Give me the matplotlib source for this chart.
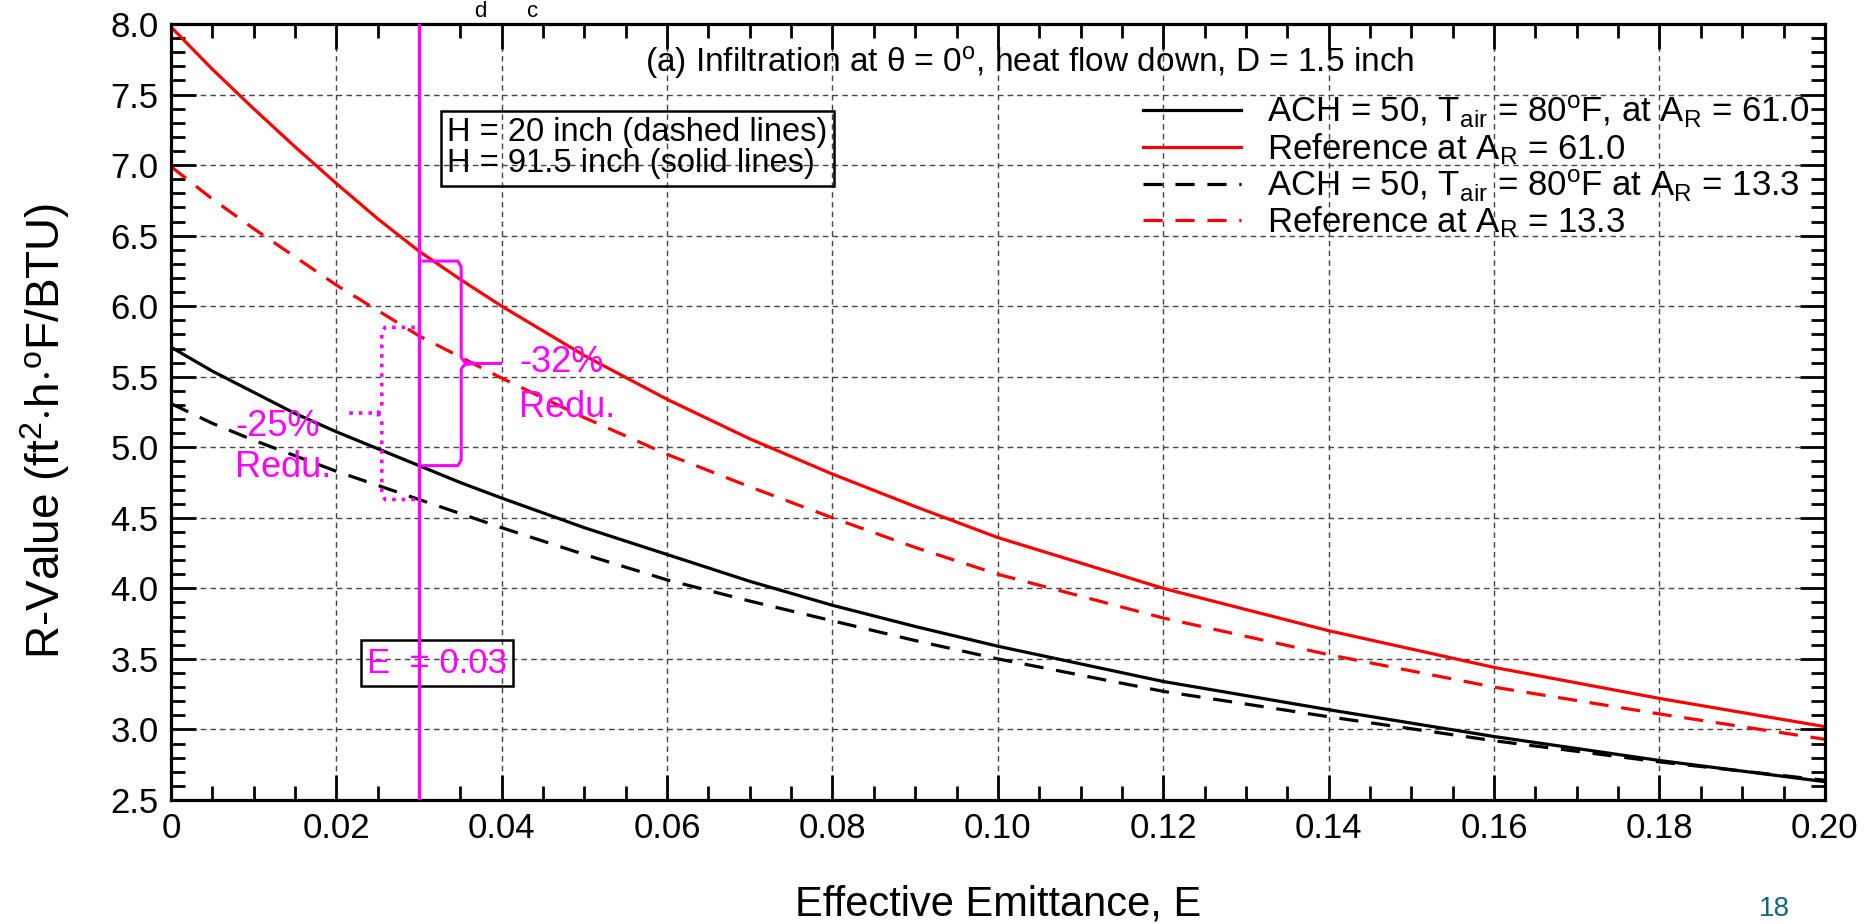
import matplotlib
matplotlib.use('Agg')
import matplotlib.pyplot as plt
import numpy as np
from matplotlib.ticker import MultipleLocator, FixedLocator, FixedFormatter

# values
E = [0, 0.005, 0.01, 0.015, 0.02, 0.025, 0.03, 0.035, 0.04, 0.05, 0.06, 0.07,
     0.08, 0.09, 0.10, 0.12, 0.14, 0.16, 0.18, 0.20]
ref_61 = [7.98, 7.68, 7.40, 7.13, 6.87, 6.62, 6.39, 6.19, 6.00, 5.65, 5.34, 5.06,
          4.81, 4.58, 4.36, 4.00, 3.70, 3.44, 3.22, 3.02]
ref_13 = [6.99, 6.76, 6.55, 6.35, 6.15, 5.97, 5.79, 5.64, 5.49, 5.21, 4.95, 4.72,
          4.50, 4.29, 4.10, 3.79, 3.53, 3.30, 3.11, 2.93]
ach_61 = [5.71, 5.54, 5.39, 5.24, 5.11, 4.99, 4.87, 4.75, 4.64, 4.43, 4.24, 4.05,
          3.88, 3.73, 3.59, 3.34, 3.14, 2.95, 2.78, 2.63]
ach_13 = [5.31, 5.17, 5.05, 4.94, 4.83, 4.73, 4.63, 4.53, 4.43, 4.24, 4.06, 3.91,
          3.77, 3.63, 3.50, 3.27, 3.09, 2.92, 2.77, 2.64]

x_ticks = [0, 0.02, 0.04, 0.06, 0.08, 0.10, 0.12, 0.14, 0.16, 0.18, 0.20]
x_ticklabels = ['0', '0.02', '0.04', '0.06', '0.08', '0.10', '0.12', '0.14', '0.16', '0.18', '0.20']
E_mark = 0.03
red_pct = '-32%'
black_pct = '-25%'

plt.rcParams['font.family'] = ['Liberation Sans']
plt.rcParams['mathtext.fontset'] = 'custom'
plt.rcParams['mathtext.rm'] = 'Liberation Sans'
plt.rcParams['mathtext.it'] = 'Liberation Sans:italic'
MAG = '#ff00ff'

fig = plt.figure(figsize=(18.68, 9.24), dpi=100)
ax = fig.add_axes([0.0915, 0.1342, 0.8854, 0.8398])

dash = (0, (6, 4))
ax.plot(E, ach_61, color='black', lw=2.3,
        label=r'ACH = 50, T$_{\rm air}$ = 80$^{\rm o}$F, at A$_{\rm R}$ = 61.0')
ax.plot(E, ref_61, color='red', lw=2.3, label=r'Reference at A$_{\rm R}$ = 61.0')
ax.plot(E, ach_13, color='black', lw=2.3, ls=dash,
        label=r'ACH = 50, T$_{\rm air}$ = 80$^{\rm o}$F at A$_{\rm R}$ = 13.3')
ax.plot(E, ref_13, color='red', lw=2.3, ls=dash, label=r'Reference at A$_{\rm R}$ = 13.3')

# E = 0.03 marker line
ax.axvline(E_mark, color=MAG, lw=2.4, zorder=5)

i = E.index(E_mark)
# solid brace between the H = 91.5 inch curves
yt, yb = ref_61[i] - 0.07, ach_61[i]
ym = (yt + yb) / 2
xb, xt, d = 0.0351, 0.0367, 0.04
ax.plot([E_mark + 0.0005, xb - 0.0004, xb, xb, xb + 0.0004, xt],
        [yt, yt, yt - d, ym + d, ym + 0.01, ym], color=MAG, lw=2.2)
ax.plot([E_mark + 0.0005, xb - 0.0004, xb, xb, xb + 0.0004, xt],
        [yb, yb, yb + d, ym - d, ym - 0.01, ym], color=MAG, lw=2.2)
ax.plot([xt, 0.0398], [ym, ym], color=MAG, lw=2.2)

# dotted brace between the H = 20 inch curves
yt2, yb2 = ref_13[i] + 0.06, ach_13[i]
ym2 = (yt2 + yb2) / 2
xb2, xt2 = 0.0255, 0.0243
ax.plot([E_mark - 0.0005, xb2 + 0.0004, xb2, xb2, xb2 - 0.0003, xt2],
        [yt2, yt2, yt2 - d, ym2 + d, ym2 + 0.01, ym2], color=MAG, lw=2.6, ls=':')
ax.plot([E_mark - 0.0005, xb2 + 0.0004, xb2, xb2, xb2 - 0.0003, xt2],
        [yb2, yb2, yb2 + d, ym2 - d, ym2 - 0.01, ym2], color=MAG, lw=2.6, ls=':')
ax.plot([xt2, 0.0212], [ym2, ym2], color=MAG, lw=2.6, ls=':')

ax.text(0.0421, 5.60, red_pct, color=MAG, fontsize=26, va='center', ha='left')
ax.text(0.0421, 5.28, 'Redu.', color=MAG, fontsize=26, va='center', ha='left')
ax.text(0.0078, 5.15, black_pct, color=MAG, fontsize=26, va='center', ha='left')
ax.text(0.0078, 4.86, 'Redu.', color=MAG, fontsize=26, va='center', ha='left')

ax.text(0.0322, 3.47, 'E  = 0.03', color=MAG, fontsize=25, va='center', ha='center',
        zorder=4, bbox=dict(boxstyle='square,pad=0.18', fc='none', ec='black', lw=1.8))

ax.text(0.0334, 7.12, 'H = 20 inch (dashed lines)\nH = 91.5 inch (solid lines)',
        fontsize=23.5, va='center', ha='left', linespacing=1.0,
        bbox=dict(boxstyle='square,pad=0.2', fc='none', ec='black', lw=1.8))

ax.text(0.1038, 7.73, r'(a) Infiltration at θ = 0$^{\rm o}$, heat flow down, D = 1.5 inch',
        fontsize=24, ha='center', va='center')

leg = ax.legend(loc='upper left', bbox_to_anchor=(0.588, 0.91), frameon=False,
                borderpad=0, borderaxespad=0, handlelength=2.8, handletextpad=0.75,
                labelspacing=0.02, prop={'size': 25})

ax.set_xlim(0, 0.20)
ax.set_ylim(2.5, 8.0)
ax.xaxis.set_major_locator(FixedLocator(x_ticks))
ax.xaxis.set_major_formatter(FixedFormatter(x_ticklabels))
ax.xaxis.set_minor_locator(MultipleLocator(0.005))
ax.yaxis.set_major_locator(MultipleLocator(0.5))
ax.yaxis.set_minor_locator(MultipleLocator(0.1))
ax.yaxis.set_major_formatter(matplotlib.ticker.FormatStrFormatter('%.1f'))
ax.tick_params(which='both', direction='in', top=True, right=True, width=2,
               labelsize=25, pad=9)
ax.tick_params(which='major', length=18)
ax.tick_params(which='minor', length=10)
for s in ax.spines.values():
    s.set_linewidth(2.3)
ax.grid(True, which='major', ls=(0, (4, 3)), color='#444444', lw=1.0)
ax.set_axisbelow(True)

ax.set_xlabel('Effective Emittance, E', fontsize=30, va='center')
ax.xaxis.set_label_coords(0.5, -0.135)
ax.set_ylabel(r'R-Value (ft$^2$$\cdot$h$\cdot$$^{\rm o}$F/BTU)', fontsize=33, va='center')
ax.yaxis.set_label_coords(-0.076, 0.476)

# slide leftovers
fig.text(0.257, 0.999, 'd', fontsize=16, ha='center', va='top')
fig.text(0.285, 0.999, 'c', fontsize=16, ha='center', va='top')
fig.text(0.950, 0.002, '18', fontsize=20, color='#17647f', ha='center', va='bottom')

fig.savefig('out.png', dpi=100)
